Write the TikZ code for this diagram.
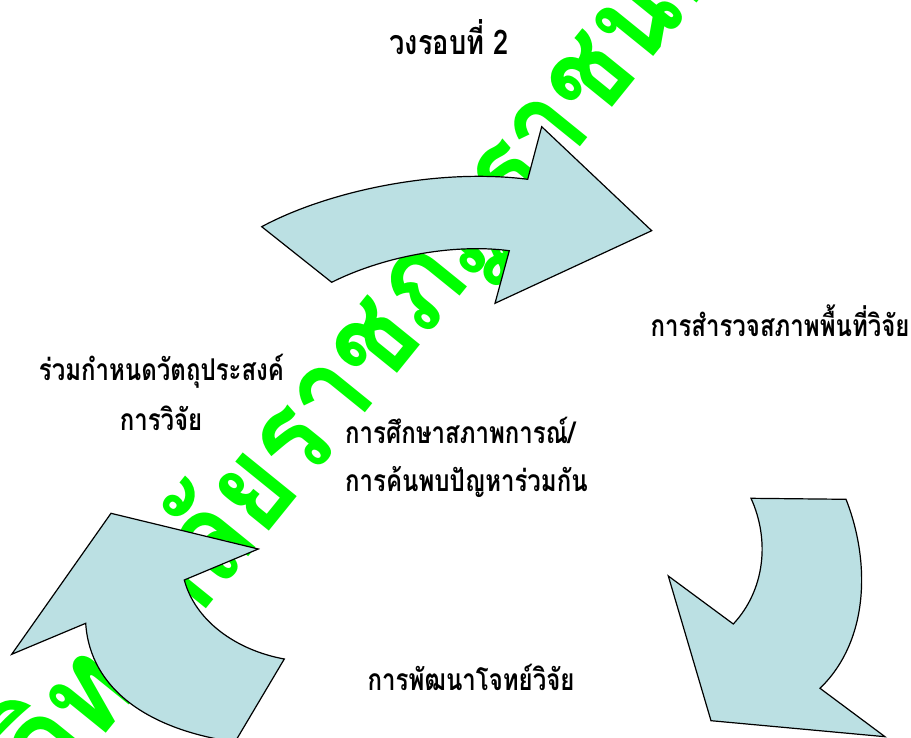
\documentclass[tikz,border=0pt]{standalone}
\usepackage{fontspec}
\newfontfamily\lblfont[Script=Thai,FakeStretch=0.8]{Loma}
\newfontfamily\wmfont[Script=Thai,FakeStretch=0.88]{Loma}
\definecolor{arrowfill}{RGB}{187,224,227}
\definecolor{wmgreen}{RGB}{0,255,0}
\begin{document}
\begin{tikzpicture}[x=1pt,y=-1pt,
  arr/.style={draw=black, line width=1.2pt, fill=arrowfill, line join=miter},
  lbl/.style={font=\lblfont\bfseries\fontsize{30}{34}\selectfont, inner sep=0pt, text=black},
  ttl/.style={font=\lblfont\bfseries\fontsize{34}{38}\selectfont, inner sep=0pt, text=black},
  wm/.style={font=\wmfont\bfseries\fontsize{125}{130}\selectfont, inner sep=0pt, text=wmgreen, rotate=51}]
\useasboundingbox (0,0) rectangle (911,738);
\clip (0,0) rectangle (911,738);
\fill[white] (0,0) rectangle (911,738);
% watermark
\node[wm, anchor=base west] (mark) at (-74,955) {มหาวิทยาลัยราชภัฏราชนครินทร์};
% arrows
\draw[arr] (261.7,226.7) .. controls (330,190) and (440,168) .. (527.7,179.3)
  -- (541.7,126.7) -- (651.7,230.7) -- (495,303.3) -- (509.3,250.7)
  .. controls (450,243) and (380,258) .. (331.7,282.3) -- cycle;
\draw[arr] (111,513.3) -- (258.3,549) -- (184.3,580)
  .. controls (195,620) and (235,650) .. (284.3,659) -- (235,742)
  .. controls (150,730) and (90,690) .. (85.7,623.3) -- (11.7,654.3) -- cycle;
\draw[arr] (751,498.3) -- (846,499.3) .. controls (870,560) and (870,640) .. (820,688.3)
  -- (885,736.7) -- (711,720.7) -- (668.3,576) -- (733.3,624)
  .. controls (765,590) and (770,540) .. (751,498.3) -- cycle;
% labels
\node[ttl, anchor=base] (title) at (449,55) {วงรอบที่ 2};
\node[lbl, anchor=base] (survey) at (780,337) {การสำรวจสภาพพื้นที่วิจัย};
\node[lbl, anchor=base] (obja) at (161.5,380) {ร่วมกำหนดวัตถุประสงค์};
\node[lbl, anchor=base] (objb) at (161,430) {การวิจัย};
\node[lbl, anchor=base west] (studya) at (345,443) {การศึกษาสภาพการณ์/};
\node[lbl, anchor=base west] (studyb) at (345,491) {การค้นพบปัญหาร่วมกัน};
\node[lbl, anchor=base] (dev) at (471,690) {การพัฒนาโจทย์วิจัย};
\end{tikzpicture}
\end{document}
